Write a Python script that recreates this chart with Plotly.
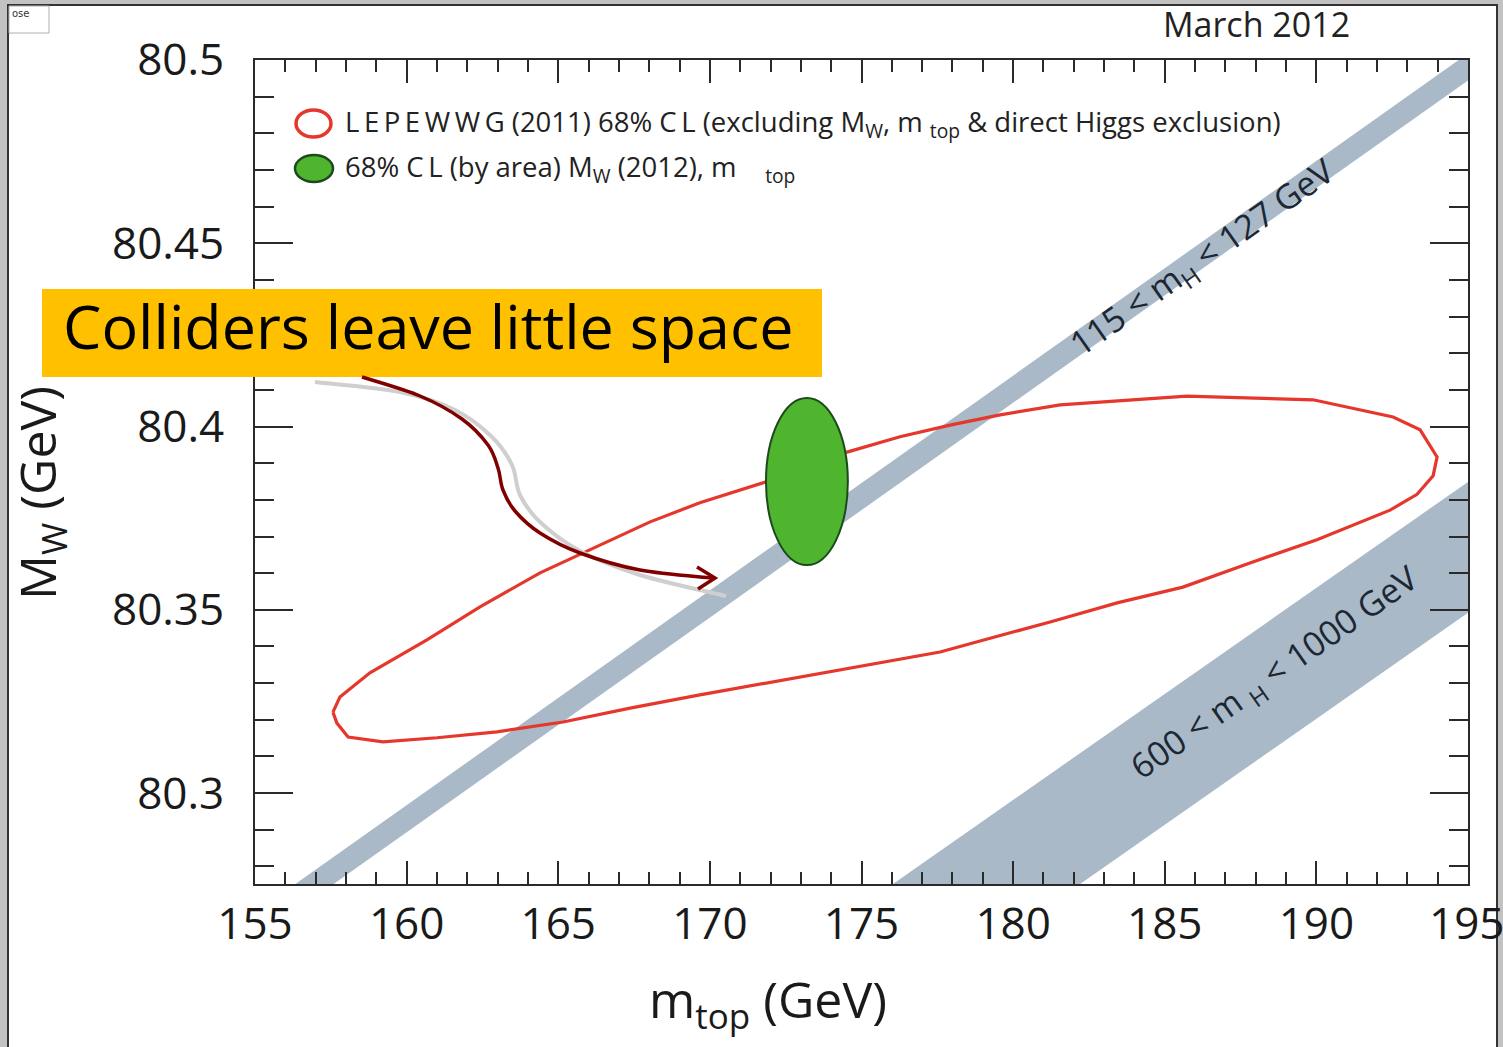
import plotly.graph_objects as go

# ---------------- data ----------------
x_tick_vals = [155, 160, 165, 170, 175, 180, 185, 190]
x_tick_text = ["155", "160", "165", "170", "175", "180", "185", "190"]
x_last_tick_val = 195
x_last_tick_text = "195"
y_tick_vals = [80.30, 80.35, 80.40, 80.45, 80.50]
y_tick_text = ["80.3", "80.35", "80.4", "80.45", "80.5"]

# 115 < mH < 127 GeV band (edges sampled at the plot edges)
light_band_mt = [155.0, 195.0]
light_band_upper = [80.2674, 80.5018]
light_band_lower = [80.2600, 80.4944]

# 600 < mH < 1000 GeV band
heavy_band_mt = [155.0, 195.0]
heavy_band_upper = [80.1535, 80.3849]
heavy_band_lower = [80.1178, 80.3492]

# LEPEWWG (2011) 68% CL contour
lep_mt = [157.57, 157.70, 158.07, 159.22, 161.00, 162.98, 165.16, 167.37, 169.67,
          173.96, 177.59, 181.22, 183.43, 185.60, 187.81, 190.02, 191.67, 192.43,
          193.32, 193.85, 193.98, 193.69, 193.42, 192.53, 189.89, 185.73, 181.55,
          179.57, 177.92, 176.27, 174.55, 171.85, 169.67, 168.03, 166.38, 164.40,
          162.42, 160.67, 158.79, 157.80]
lep_mw = [80.3221, 80.3191, 80.3153, 80.3140, 80.3151, 80.3167, 80.3194, 80.3232, 80.3268,
          80.3331, 80.3385, 80.3467, 80.3519, 80.3562, 80.3628, 80.3691, 80.3745, 80.3772,
          80.3815, 80.3866, 80.3917, 80.3955, 80.3991, 80.4026, 80.4073, 80.4083, 80.4059,
          80.4032, 80.4004, 80.3972, 80.3931, 80.3849, 80.3792, 80.3740, 80.3677, 80.3601,
          80.3508, 80.3418, 80.3328, 80.3262]

# 2012 measurement, 68% CL (by area) ellipse
mt_2012 = 173.2
mt_2012_half = 1.35
mw_2012 = 80.385
mw_2012_half = 0.0228

# ---------------- layout helpers ----------------
W, H = 1503, 1047
L, R, T, B = 255, 1468, 60, 884


def fx(px):
    return (px - L) / (R - L)


def fy(py):
    return (B - py) / (B - T)


def smooth_path(pts):
    pp = [(fx(a), fy(b)) for a, b in pts]
    d = "M %.5f,%.5f" % pp[0]
    for i in range(len(pp) - 1):
        p0 = pp[i - 1] if i > 0 else pp[i]
        p1 = pp[i]
        p2 = pp[i + 1]
        p3 = pp[i + 2] if i + 2 < len(pp) else pp[i + 1]
        c1 = (p1[0] + (p2[0] - p0[0]) / 6, p1[1] + (p2[1] - p0[1]) / 6)
        c2 = (p2[0] - (p3[0] - p1[0]) / 6, p2[1] - (p3[1] - p1[1]) / 6)
        d += " C %.5f,%.5f %.5f,%.5f %.5f,%.5f" % (c1 + c2 + p2)
    return d


BAND = "#a9b9c7"
RED = "#e5372b"
GREEN = "#4fb52e"
DKGREEN = "#1d4a1d"
AX = "#2a2a2a"
FONT = "Open Sans"
TS = "\u2009"
TICKFONT = dict(family=FONT, size=44, color="#1a1a1a")

fig = go.Figure()

fig.add_trace(go.Scatter(
    x=light_band_mt + light_band_mt[::-1],
    y=light_band_upper + light_band_lower[::-1],
    fill="toself", fillcolor=BAND, mode="lines", line=dict(width=0),
    hoverinfo="skip", showlegend=False))
fig.add_trace(go.Scatter(
    x=heavy_band_mt + heavy_band_mt[::-1],
    y=heavy_band_upper + heavy_band_lower[::-1],
    fill="toself", fillcolor=BAND, mode="lines", line=dict(width=0),
    hoverinfo="skip", showlegend=False))
fig.add_trace(go.Scatter(
    x=lep_mt + [lep_mt[0]], y=lep_mw + [lep_mw[0]],
    mode="lines", line=dict(color=RED, width=3.2),
    hoverinfo="skip", showlegend=False))

shapes = []
# page frame
shapes.append(dict(type="rect", xref="paper", yref="paper", layer="below",
                   x0=fx(8), x1=fx(1497), y0=fy(1049), y1=fy(5),
                   fillcolor="white", line=dict(color="#333333", width=2)))
shapes.append(dict(type="rect", xref="paper", yref="paper", layer="below",
                   x0=fx(9), x1=fx(49), y0=fy(33), y1=fy(6),
                   fillcolor="white", line=dict(color="#b0b0b0", width=1)))
# green ellipse
shapes.append(dict(type="circle", xref="x", yref="y", layer="above",
                   x0=mt_2012 - mt_2012_half, x1=mt_2012 + mt_2012_half,
                   y0=mw_2012 - mw_2012_half, y1=mw_2012 + mw_2012_half,
                   fillcolor=GREEN, line=dict(color=DKGREEN, width=2)))
# legend symbols
shapes.append(dict(type="circle", xref="paper", yref="paper", layer="above",
                   x0=fx(296), x1=fx(331), y0=fy(137), y1=fy(110),
                   fillcolor="white", line=dict(color=RED, width=3.5)))
shapes.append(dict(type="circle", xref="paper", yref="paper", layer="above",
                   x0=fx(295), x1=fx(333), y0=fy(182), y1=fy(155),
                   fillcolor=GREEN, line=dict(color=DKGREEN, width=2.5)))
# yellow call-out box
shapes.append(dict(type="rect", xref="paper", yref="paper", layer="above",
                   x0=fx(42), x1=fx(822), y0=fy(377), y1=fy(289),
                   fillcolor="#ffc000", line=dict(width=0)))
# arrow shadow and arrow
shadow_pts = [(315, 382), (400, 392), (455, 410), (492, 437), (512, 465),
              (520, 495), (540, 522), (580, 551), (640, 575), (726, 596)]
arrow_pts = [(362, 377), (420, 396), (462, 419), (488, 445), (498, 468),
             (503, 490), (515, 511), (540, 533), (580, 553), (640, 570), (712, 578)]
shapes.append(dict(type="path", xref="paper", yref="paper", layer="above",
                   path=smooth_path(shadow_pts),
                   line=dict(color="#cfcfcf", width=4)))
shapes.append(dict(type="path", xref="paper", yref="paper", layer="above",
                   path=smooth_path(arrow_pts),
                   line=dict(color="#800000", width=3.5)))
shapes.append(dict(type="path", xref="paper", yref="paper", layer="above",
                   path="M %.5f,%.5f L %.5f,%.5f L %.5f,%.5f" % (
                       fx(697), fy(567), fx(715), fy(578), fx(698), fy(589)),
                   line=dict(color="#800000", width=3.5)))

ann = []
ann.append(dict(xref="paper", yref="paper", x=fx(61), y=fy(325), xanchor="left",
                yanchor="middle", showarrow=False, text="Colliders leave little space",
                font=dict(family=FONT, size=61, color="black")))
ann.append(dict(xref="paper", yref="paper", x=fx(343), y=fy(124), xanchor="left",
                yanchor="middle", showarrow=False,
                text=TS.join("LEPEWWG") + " (2011) 68% C" + TS + "L (excluding M<sub>W</sub>, m <sub>top</sub> & direct Higgs exclusion)",
                font=dict(family=FONT, size=27.5, color="#222222")))
ann.append(dict(xref="paper", yref="paper", x=fx(343), y=fy(168), xanchor="left",
                yanchor="middle", showarrow=False,
                text="68% C" + TS + "L (by area) M<sub>W</sub> (2012), m    <sub>top</sub>",
                font=dict(family=FONT, size=27.5, color="#222222")))
ann.append(dict(xref="paper", yref="paper", x=fx(1352), y=fy(24), xanchor="right",
                yanchor="middle", showarrow=False, text="March 2012",
                font=dict(family=FONT, size=34, color="#222222")))
ann.append(dict(xref="paper", yref="paper", x=fx(1203), y=fy(258), xanchor="center",
                yanchor="middle", showarrow=False, textangle=-35.2,
                text="115 < m<sub>H</sub> < 127 GeV",
                font=dict(family=FONT, size=34, color="#1c2733")))
ann.append(dict(xref="paper", yref="paper", x=fx(1275), y=fy(673), xanchor="center",
                yanchor="middle", showarrow=False, textangle=-35.2,
                text="600 < m <sub>H</sub> < 1000 GeV",
                font=dict(family=FONT, size=34, color="#1c2733")))
ann.append(dict(xref="paper", yref="paper", x=fx(768), y=fy(1002), xanchor="center",
                yanchor="middle", showarrow=False, text="m<sub>top</sub> (GeV)",
                font=dict(family=FONT, size=50, color="#1a1a1a")))
ann.append(dict(xref="paper", yref="paper", x=fx(40), y=fy(493), xanchor="center",
                yanchor="middle", showarrow=False, textangle=-90,
                text="M<sub>W</sub> (GeV)",
                font=dict(family=FONT, size=50, color="#1a1a1a")))
ann.append(dict(xref="paper", yref="paper", x=fx(10), y=fy(14), xanchor="left",
                yanchor="middle", showarrow=False, text="ose",
                font=dict(family="DejaVu Sans", size=10, color="#333333")))
# last x tick label, pushed against the right edge of the page as in the reference
ann.append(dict(xref="x", yref="paper", x=x_last_tick_val, y=0, xanchor="center",
                yanchor="top", xshift=-2, yshift=-6, showarrow=False,
                text=x_last_tick_text, font=TICKFONT))

axis_common = dict(showline=True, linecolor=AX, linewidth=2, mirror="allticks",
                   showgrid=False, zeroline=False, ticks="inside", tickcolor=AX,
                   tickwidth=2, tickfont=TICKFONT)

fig.update_layout(
    width=W, height=H,
    margin=dict(l=L, r=W - R, t=T, b=H - B, pad=0),
    paper_bgcolor="#c2c2c2", plot_bgcolor="white",
    showlegend=False,
    xaxis=dict(range=[155, 195], tickmode="array", tickvals=x_tick_vals,
               ticktext=x_tick_text, ticklen=23, ticklabelstandoff=0,
               minor=dict(ticks="inside", ticklen=12, tickwidth=2, tickcolor=AX,
                          tickmode="linear", tick0=155, dtick=1, showgrid=False),
               **axis_common),
    yaxis=dict(range=[80.2752, 80.5], tickmode="array", tickvals=y_tick_vals,
               ticktext=y_tick_text, ticklen=38, ticklabelstandoff=20,
               minor=dict(ticks="inside", ticklen=19, tickwidth=2, tickcolor=AX,
                          tickmode="linear", tick0=80.3, dtick=0.01, showgrid=False),
               **axis_common),
    shapes=shapes, annotations=ann,
)

fig.write_html("out.html")
